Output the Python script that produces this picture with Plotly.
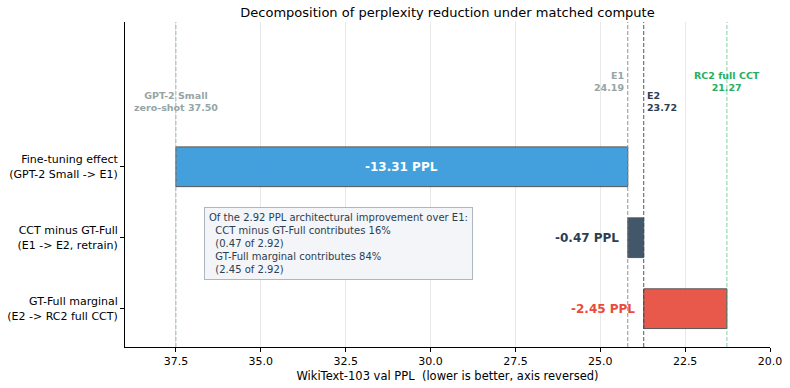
import plotly.graph_objects as go

# ---- data ----
categories = [
    "Fine-tuning effect<br>(GPT-2 Small -> E1)",
    "CCT minus GT-Full<br>(E1 -> E2, retrain)",
    "GT-Full marginal<br>(E2 -> RC2 full CCT)",
]
start_ppl = [37.50, 24.19, 23.72]
end_ppl = [24.19, 23.72, 21.27]
bar_colors = ["#3498db", "#34495e", "#e74c3c"]
bar_labels = ["-13.31 PPL", "-0.47 PPL", "-2.45 PPL"]
ref_names = ["GPT-2 Small<br>zero-shot 37.50", "E1<br>24.19", "E2<br>23.72", "RC2 full CCT<br>21.27"]
ref_values = [37.50, 24.19, 23.72, 21.27]
ref_colors = ["#95a5a6", "#7f8c8d", "#34495e", "#27ae60"]
x_ticks = [37.5, 35.0, 32.5, 30.0, 27.5, 25.0, 22.5, 20.0]
box_text = ("Of the 2.92 PPL architectural improvement over E1:<br>"
            "  CCT minus GT-Full contributes 16%<br>"
            "  (0.47 of 2.92)<br>"
            "  GT-Full marginal contributes 84%<br>"
            "  (2.45 of 2.92)")

FONT = "DejaVu Sans"
deltas = [e - s for s, e in zip(start_ppl, end_ppl)]

fig = go.Figure()
fig.add_trace(go.Bar(
    y=categories, x=deltas, base=start_ppl, orientation="h",
    marker=dict(color=bar_colors, opacity=0.92, line=dict(color="#4a4a4a", width=1)),
    width=0.56, showlegend=False, hoverinfo="skip",
))

# vertical reference lines
line_alpha = [0.8, 0.9, 0.9, 0.55]
for v, c, a in zip(ref_values, ref_colors, line_alpha):
    fig.add_shape(type="line", x0=v, x1=v, y0=0, y1=1, xref="x", yref="paper",
                  line=dict(color=c, width=1, dash="4px,2px"), opacity=a, layer="above")

# reference labels
lab_y = [0.754, 0.818, 0.754, 0.818]
lab_anchor = ["center", "right", "left", "center"]
lab_shift = [0, -2, 1, 0]
lab_colors = ["#95a5a6", "#95a5a6", "#2c3e50", "#27ae60"]
for name, v, y, an, sh, c in zip(ref_names, ref_values, lab_y, lab_anchor, lab_shift, lab_colors):
    fig.add_annotation(x=v, y=y, xref="x", yref="paper", text="<b>" + name + "</b>",
                       showarrow=False, xanchor=an, yanchor="middle", xshift=sh,
                       align=an, font=dict(family=FONT, size=9.5, color=c))

# bar labels
fig.add_annotation(x=(start_ppl[0] + end_ppl[0]) / 2, y=categories[0], text="<b>" + bar_labels[0] + "</b>",
                   showarrow=False, font=dict(family=FONT, size=12, color="white"))
fig.add_annotation(x=start_ppl[1], y=categories[1], text="<b>" + bar_labels[1] + "</b>",
                   showarrow=False, xanchor="right", xshift=-7,
                   font=dict(family=FONT, size=12, color="#2c3e50"))
fig.add_annotation(x=start_ppl[2], y=categories[2], text="<b>" + bar_labels[2] + "</b>",
                   showarrow=False, xanchor="right", xshift=-7,
                   font=dict(family=FONT, size=12, color="#e74c3c"))

# text box
fig.add_annotation(x=36.675, y=0.317, xref="x", yref="paper", text=box_text,
                   showarrow=False, xanchor="left", yanchor="middle", align="left",
                   bgcolor="#f3f5f8", bordercolor="#aeb6bf", borderwidth=1, borderpad=4,
                   font=dict(family=FONT, size=10, color="#2c3e50"))

fig.update_layout(
    width=790, height=388,
    margin=dict(l=125, r=20, t=22, b=41, autoexpand=False),
    paper_bgcolor="white", plot_bgcolor="white",
    font=dict(family=FONT, size=11, color="black"),
    title=dict(text="Decomposition of perplexity reduction under matched compute",
               x=0.5, xref="paper", y=1 - 12 / 388, yanchor="middle",
               font=dict(family=FONT, size=13, color="black")),
    xaxis=dict(range=[39.0, 20.0], tickvals=x_ticks, ticktext=[f"{t:.1f}" for t in x_ticks],
               showgrid=True, gridcolor="#e8e8e8", gridwidth=1, zeroline=False,
               showline=True, linecolor="black", linewidth=1, automargin=False,
               ticks="outside", ticklen=4, tickcolor="black",
               tickfont=dict(family=FONT, size=11),
               title=dict(text="WikiText-103 val PPL \u00a0(lower is better, axis reversed)",
                          font=dict(family=FONT, size=11.5), standoff=4)),
    yaxis=dict(type="category", categoryorder="array", categoryarray=categories[::-1],
               range=[-0.54, 4.04], showgrid=False, zeroline=False,
               showline=True, linecolor="black", linewidth=1, automargin=False,
               ticks="outside", ticklen=4, tickcolor="black",
               tickfont=dict(family=FONT, size=11)),
)

fig.write_html("out.html")
